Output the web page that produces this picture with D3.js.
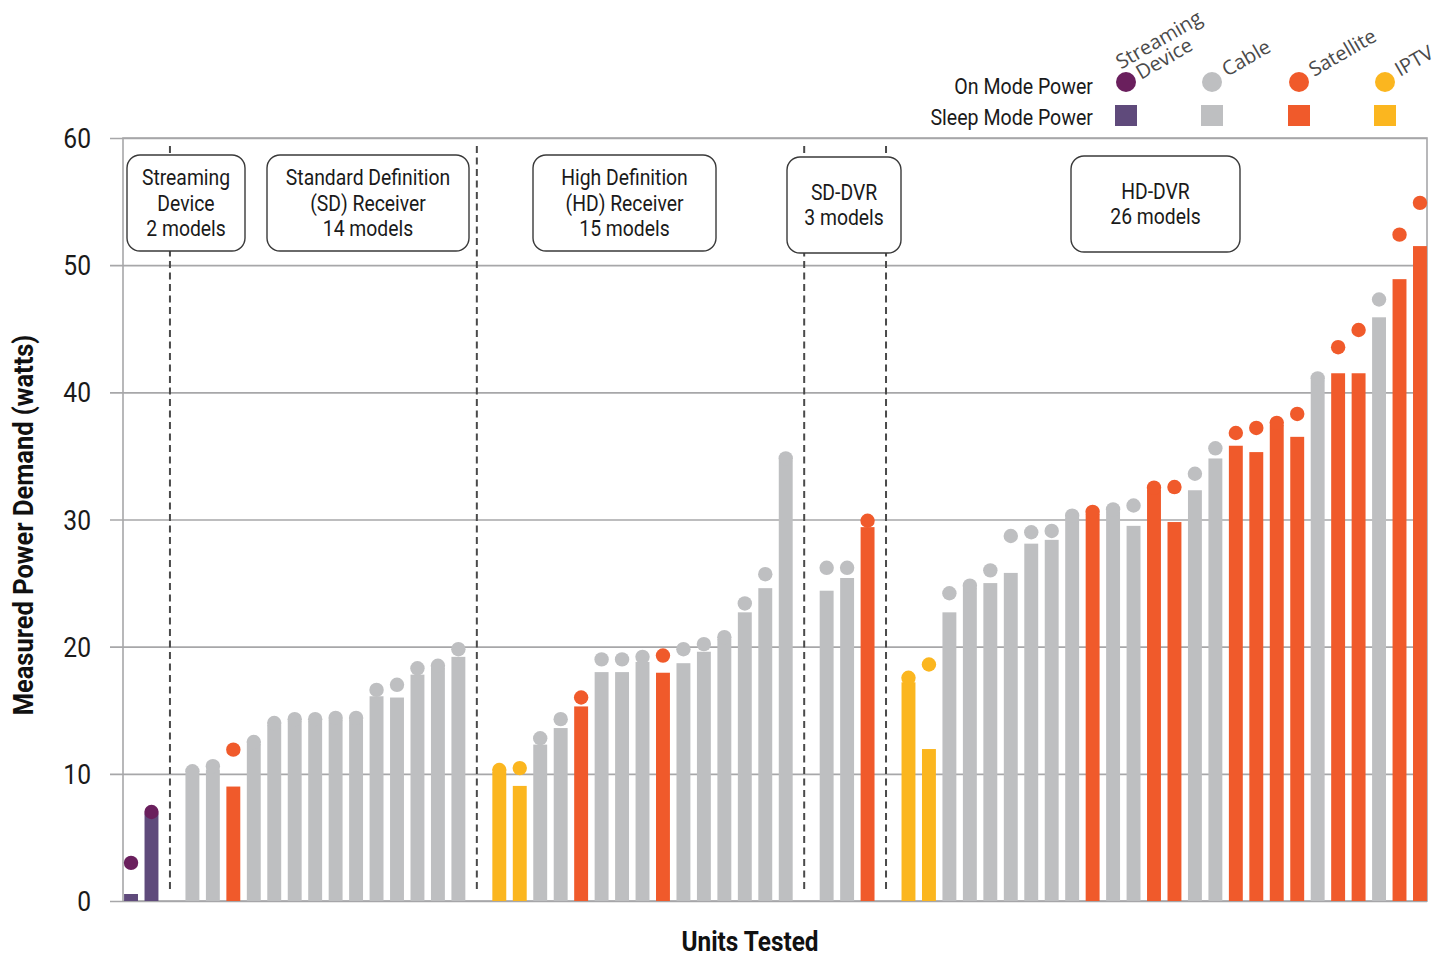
<!DOCTYPE html>
<html>
<head>
<meta charset="utf-8">
<script src="https://cdn.jsdelivr.net/npm/d3@7"></script>
<style>
  body { margin: 0; background: #fff; }
  svg text { font-family: Roboto, "DejaVu Sans Condensed", sans-serif; }
</style>
</head>
<body>
<svg width="1442" height="957"></svg>
<script>
// provider codes: S = streaming device, C = cable, T = satellite, I = IPTV
const groupLabels = [
  ["Streaming", "Device", "2 models"],
  ["Standard Definition", "(SD) Receiver", "14 models"],
  ["High Definition", "(HD) Receiver", "15 models"],
  ["SD-DVR", "3 models"],
  ["HD-DVR", "26 models"]
];

const streamingProv = ["S", "S"];
const streamingOn = [3.0, 7.0];
const streamingSleep = [0.55, 6.9];

const sdProv = ["C", "C", "T", "C", "C", "C", "C", "C", "C", "C", "C", "C", "C", "C"];
const sdOn = [10.2, 10.6, 11.9, 12.5, 14.0, 14.3, 14.3, 14.4, 14.4, 16.6, 17.0, 18.3, 18.5, 19.8];
const sdSleep = [10.05, 10.35, 9.0, 12.35, 13.85, 14.15, 14.15, 14.25, 14.25, 16.1, 16.0, 17.8, 18.35, 19.2];

const hdProv = ["I", "I", "C", "C", "T", "C", "C", "C", "T", "C", "C", "C", "C", "C", "C"];
const hdOn = [10.3, 10.45, 12.8, 14.3, 16.0, 19.0, 19.0, 19.2, 19.3, 19.8, 20.2, 20.75, 23.4, 25.7, 34.8];
const hdSleep = [10.15, 9.05, 12.3, 13.6, 15.3, 18.0, 18.0, 18.8, 17.95, 18.7, 19.6, 20.6, 22.7, 24.6, 34.65];

const sdDvrProv = ["C", "C", "T"];
const sdDvrOn = [26.2, 26.2, 29.9];
const sdDvrSleep = [24.4, 25.4, 29.4];

const hdDvrProv = ["I", "I", "C", "C", "C", "C", "C", "C", "C", "T", "C", "C", "T",
  "T", "C", "C", "T", "T", "T", "T", "C", "T", "T", "C", "T", "T"];
const hdDvrOn = [17.55, 18.6, 24.2, 24.8, 26.0, 28.7, 29.0, 29.1, 30.3, 30.6, 30.8, 31.1, 32.5,
  32.55, 33.6, 35.6, 36.8, 37.2, 37.6, 38.3, 41.1, 43.55, 44.9, 47.3, 52.4, 54.9];
const hdDvrSleep = [17.2, 11.95, 22.7, 24.65, 25.0, 25.8, 28.1, 28.4, 30.15, 30.45, 30.65, 29.5, 32.35,
  29.8, 32.3, 34.8, 35.8, 35.3, 37.45, 36.5, 40.95, 41.5, 41.5, 45.9, 48.9, 51.5];

const yTicks = [0, 10, 20, 30, 40, 50, 60];
const providers = ["S", "C", "T", "I"];
const providerNames = [["Streaming", "Device"], ["Cable"], ["Satellite"], ["IPTV"]];

const onColor = { S: "#6a1f5d", C: "#bebfc1", T: "#f05a2b", I: "#fbb61f" };
const sleepColor = { S: "#5f4a7b", C: "#bebfc1", T: "#f05a2b", I: "#fbb61f" };

// build one slot list, with an empty slot between groups
const groups = [
  [streamingProv, streamingOn, streamingSleep],
  [sdProv, sdOn, sdSleep],
  [hdProv, hdOn, hdSleep],
  [sdDvrProv, sdDvrOn, sdDvrSleep],
  [hdDvrProv, hdDvrOn, hdDvrSleep]
];
const units = [];
const gapSlots = [];
let slot = 0;
groups.forEach((g, gi) => {
  if (gi > 0) { gapSlots.push(slot); slot++; }
  g[0].forEach((p, i) => {
    units.push({ slot: slot, prov: p, on: g[1][i], sleep: g[2][i] });
    slot++;
  });
});

const svg = d3.select("svg");
const plotL = 123, plotR = 1427, plotT = 138, plotB = 901;

const y = d3.scaleLinear().domain([0, 60]).range([plotB, plotT]);
const x = d3.scaleBand().domain(d3.range(slot)).range([120.8, 1430.2])
  .paddingInner(0.32).paddingOuter(0.16);

// the original uses a condensed face, so squeeze Roboto horizontally
function ctext(parent, px, py, str, size, anchor, sx, extra) {
  return parent.append("text")
    .attr("transform", `translate(${px},${py})${extra || ""} scale(${sx},1)`)
    .attr("text-anchor", anchor).attr("font-size", size).attr("fill", "#1a1a1a").text(str);
}

// gridlines + ticks
const yAxis = d3.axisLeft(y).tickValues(yTicks).tickSize(-(plotR - plotL)).tickFormat("")
  .tickSizeOuter(0);
const ga = svg.append("g").attr("transform", `translate(${plotL},0)`).call(yAxis);
ga.select(".domain").remove();
ga.selectAll(".tick line").attr("stroke", "#a7a7a9").attr("stroke-width", 1.6).attr("x1", -13);
yTicks.forEach(t => ctext(svg, 91, y(t) + 10, t, 28, "end", 0.88));

// frame
svg.append("rect").attr("x", plotL).attr("y", plotT).attr("width", plotR - plotL).attr("height", plotB - plotT)
  .attr("fill", "none").attr("stroke", "#a7a7a9").attr("stroke-width", 1.6);

// group separators
svg.append("g").selectAll("line").data(gapSlots).join("line")
  .attr("x1", d => x(d) + x.bandwidth() / 2 - 2).attr("x2", d => x(d) + x.bandwidth() / 2 - 2)
  .attr("y1", 146).attr("y2", 891)
  .attr("stroke", "#4a4a4a").attr("stroke-width", 2).attr("stroke-dasharray", "7,4.5");

// sleep bars
svg.append("g").selectAll("rect").data(units).join("rect")
  .attr("x", d => x(d.slot)).attr("width", x.bandwidth())
  .attr("y", d => y(d.sleep)).attr("height", d => y(0) - y(d.sleep))
  .attr("fill", d => sleepColor[d.prov]);

// on-mode dots
svg.append("g").selectAll("circle").data(units).join("circle")
  .attr("cx", d => x(d.slot) + x.bandwidth() / 2).attr("cy", d => y(d.on))
  .attr("r", 7.2).attr("fill", d => onColor[d.prov]);

// group label boxes
const boxes = [
  { x: 127, y: 155, w: 118, h: 96 },
  { x: 267, y: 155, w: 202, h: 96 },
  { x: 533, y: 155, w: 183, h: 96 },
  { x: 787, y: 157, w: 114, h: 96 },
  { x: 1071, y: 156, w: 169, h: 96 }
];
boxes.forEach((b, i) => {
  const g = svg.append("g");
  g.append("rect").attr("x", b.x).attr("y", b.y).attr("width", b.w).attr("height", b.h)
    .attr("rx", 13).attr("fill", "#fff").attr("stroke", "#3a3a3a").attr("stroke-width", 1.4);
  const lines = groupLabels[i];
  const startY = b.y + b.h / 2 - (lines.length - 1) * 25.5 / 2;
  lines.forEach((l, k) => ctext(g, b.x + b.w / 2, startY + k * 25.5 + 7.5, l, 21.5, "middle", 0.9));
});

// axis titles
ctext(svg, 33, 525, "Measured Power Demand (watts)", 28, "middle", 0.91, " rotate(-90)")
  .attr("font-weight", "bold").attr("fill", "#111");
ctext(svg, 750, 951, "Units Tested", 28, "middle", 0.87).attr("font-weight", "bold").attr("fill", "#111");

// legend
const legX = [1126, 1212, 1299, 1385];
ctext(svg, 1093, 94, "On Mode Power", 22, "end", 0.89);
ctext(svg, 1093, 125, "Sleep Mode Power", 22, "end", 0.89);
providers.forEach((p, i) => {
  svg.append("circle").attr("cx", legX[i]).attr("cy", 82).attr("r", 10).attr("fill", onColor[p]);
  svg.append("rect").attr("x", legX[i] - 11).attr("y", 105).attr("width", 22).attr("height", 21)
    .attr("fill", sleepColor[p]);
  const names = providerNames[i];
  const t = svg.append("text")
    .attr("transform", `translate(${legX[i] + (names.length > 1 ? 15 : 15)},${names.length > 1 ? 80 : 77}) rotate(-30)`)
    .attr("font-size", 20).attr("fill", "#4a4a4a")
    .style("font-family", "'Open Sans', 'Noto Sans', sans-serif");
  names.forEach((n, k) => {
    t.append("tspan").attr("x", names.length > 1 && k === 0 ? -12 : 0)
      .attr("y", (k - (names.length - 1)) * 19).text(n);
  });
});
</script>
</body>
</html>
